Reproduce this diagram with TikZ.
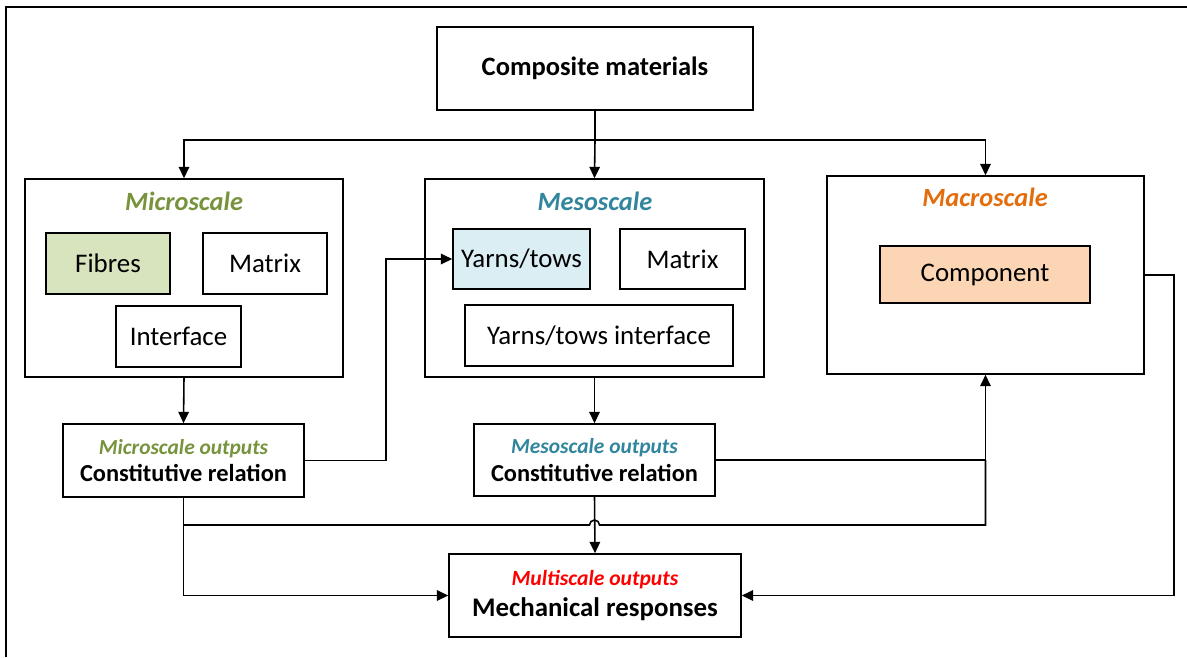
\documentclass[tikz,border=0pt]{standalone}
\usepackage{fontspec}
\setmainfont{Carlito}
\usepackage{tikz}
\usetikzlibrary{arrows.meta}
\definecolor{microgreen}{HTML}{77933C}
\definecolor{mesoteal}{HTML}{31859C}
\definecolor{macroorange}{HTML}{E46C0A}
\definecolor{fibrefill}{HTML}{D7E4BD}
\definecolor{yarnfill}{HTML}{DBEEF4}
\definecolor{compfill}{HTML}{FCD5B5}

\begin{document}
\begin{tikzpicture}[x=0.02cm,y=-0.02cm,
    scalebox/.style={draw,line width=0.9pt,inner sep=0pt},
    partbox/.style={draw,line width=0.9pt,inner sep=0pt,minimum height=1.22cm,font=\fontsize{15.3}{17}\selectfont},
    outbox/.style={draw,line width=0.9pt,inner sep=0pt,align=center,font=\fontsize{13.9}{15.5}\selectfont\bfseries},
    scaletitle/.style={font=\fontsize{15}{17}\selectfont\bfseries\itshape},
    arr/.style={line width=0.9pt,-{Triangle[length=6.5pt,width=6pt]}},
    link/.style={line width=0.9pt}
    ]
    \useasboundingbox (0,0) rectangle (1187,657);
    \draw[line width=1.2pt] (6,657) -- (6,7) -- (1187,7);

    \node[outbox,minimum width=6.32cm,minimum height=1.66cm,font=\fontsize{15.1}{17}\selectfont\bfseries] (comp) at (595,68.5) {Composite materials};

    \node[scalebox,minimum width=6.36cm,minimum height=3.96cm] (micro) at (184,278) {};
    \node[scaletitle,text=microgreen] (microtitle) at (184,201) {Microscale};
    \node[partbox,fill=fibrefill,minimum width=2.48cm] (fibres) at (108,263.5) {Fibres};
    \node[partbox,minimum width=2.48cm] (mimatrix) at (265,263.5) {Matrix};
    \node[partbox,minimum width=2.5cm] (miinter) at (178.5,336.5) {Interface};

    \node[scalebox,minimum width=6.78cm,minimum height=3.96cm] (meso) at (594.5,278) {};
    \node[scaletitle,text=mesoteal] (mesotitle) at (595,201) {Mesoscale};
    \node[partbox,fill=yarnfill,minimum width=2.74cm,minimum height=1.2cm] (yarns) at (521.5,259) {Yarns/tows};
    \node[partbox,minimum width=2.5cm,minimum height=1.2cm] (mematrix) at (682.5,259) {Matrix};
    \node[partbox,minimum width=5.36cm] (meinter) at (599,335.5) {Yarns/tows interface};

    \node[scalebox,minimum width=6.34cm,minimum height=3.96cm] (macro) at (985.5,275) {};
    \node[scaletitle,text=macroorange] (macrotitle) at (985,197) {Macroscale};
    \node[partbox,fill=compfill,minimum width=4.2cm,minimum height=1.14cm] (component) at (985,274.5) {Component};

    \node[outbox,minimum width=4.82cm,minimum height=1.46cm] (microout) at (183.5,460.5)
        {{\fontsize{12.2}{13}\selectfont\itshape\color{microgreen}Microscale outputs}\\Constitutive relation};
    \node[outbox,minimum width=4.82cm,minimum height=1.44cm] (mesoout) at (594.5,460)
        {{\fontsize{12.2}{13}\selectfont\itshape\color{mesoteal}Mesoscale outputs}\\Constitutive relation};
    \node[outbox,minimum width=5.84cm,minimum height=1.66cm,font=\fontsize{15.3}{17.5}\selectfont\bfseries] (multi) at (595,595.5)
        {{\fontsize{12.3}{13}\selectfont\itshape\color{red}Multiscale outputs}\\Mechanical responses};

    \coordinate (split) at (595,140);
    \coordinate (hopy) at (0,525);

    \draw[link] (comp.south) -- (split);
    \draw[arr] (split) -| (micro.north);
    \draw[arr] (split) -- (meso.north);
    \draw[arr] (split) -| (macro.north);

    \draw[arr] (micro.south) -- (microout.north);
    \draw[arr] (meso.south) -- (mesoout.north);
    \draw[arr] (microout.east) -- ++(81,0) |- (yarns.west);
    \draw[arr] (mesoout.east) -| (macro.south);
    \draw[arr] (microout.south) |- (multi.west);
    \draw[arr] (mesoout.south) -- (multi.north);
    \draw[link] (microout.south |- hopy) -- ++(406,0) arc[start angle=180,end angle=0,radius=0.1cm]
        -- (macro.south |- hopy) -- (macro.south |- mesoout.east);
    \draw[arr] (macro.east) -- ++(29,0) |- (multi.east);
\end{tikzpicture}
\end{document}
